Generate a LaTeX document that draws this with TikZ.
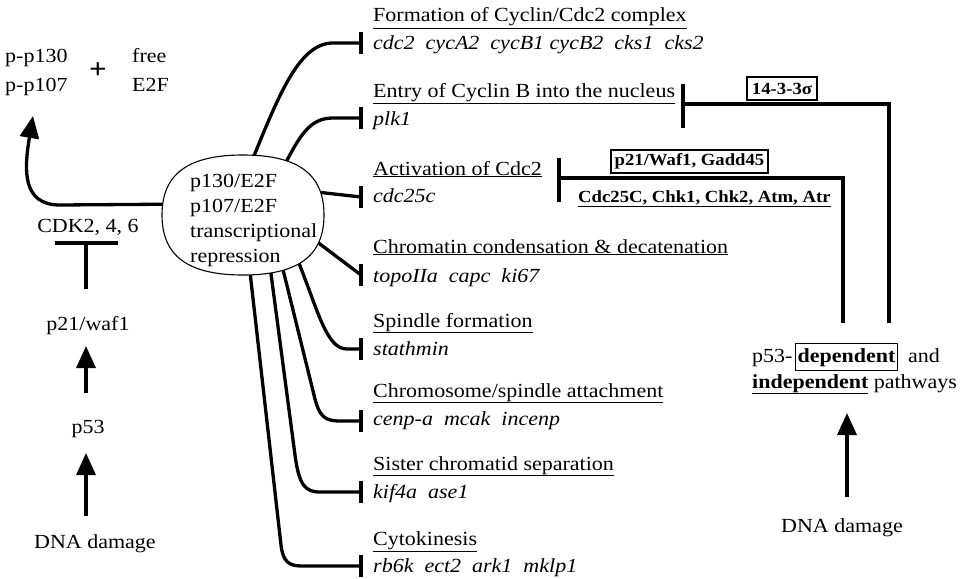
\documentclass[tikz,border=0pt]{standalone}
\usepackage{fontspec}
\setmainfont{Liberation Serif}[FakeStretch=1.1]
\usetikzlibrary{arrows.meta,shapes.geometric}
\newcommand\mainsz{\fontsize{20}{25}\selectfont}
\newcommand\lblsz{\fontsize{17}{20}\selectfont\bfseries}
\newcommand\gp{\hspace{11pt}}
\begin{document}
\begin{tikzpicture}[x=1pt,y=-1pt,
  txt/.style={inner sep=0pt, anchor=base west, font=\mainsz},
  ctxt/.style={inner sep=0pt, anchor=base, font=\mainsz},
  gene/.style={inner sep=0pt, anchor=base west, font=\mainsz\itshape},
  lbl/.style={inner sep=0pt, font=\lblsz},
  boxlbl/.style={lbl, draw, line width=1.1pt, minimum height=23pt},
  conn/.style={line width=3.3pt},
  barline/.style={line width=3.6pt},
  arr/.style={line width=3.3pt, -{Triangle[length=22pt,width=19pt]}},
]
\useasboundingbox (0,0) rectangle (968,578);

% ---------- left column ----------
\node[txt] (pp1) at (5,63) {p-p130};
\node[txt] (pp2) at (5,91) {p-p107};
\node[inner sep=0pt, font=\fontsize{28}{30}\selectfont\bfseries] (plus) at (98,71) {+};
\node[txt] (fr1) at (132,63) {free};
\node[txt] (fr2) at (132,91) {E2F};
\coordinate (ppTip) at (33,116);

\node[ctxt] (cdk) at (88,232) {CDK2, 4, 6};
\coordinate (cdkbar) at (86,243);
\node[ctxt] (p21) at (88,330) {p21/waf1};
\coordinate (p21top) at (86,289);
\node[ctxt] (p53) at (88,433) {p53};
\node[ctxt] (dna1) at (95,548) {DNA damage};

\coordinate (a1s) at (86,393);
\coordinate (a1e) at (86,346);
\coordinate (a2s) at (86,516);
\coordinate (a2e) at (86,453);

\draw[conn] (p21top) -- (cdkbar);
\draw[barline] (55,243) -- (118,243);
\draw[arr] (a1s) -- (a1e);
\draw[arr] (a2s) -- (a2e);

% ---------- central node (anchors) ----------
\node[ellipse, minimum width=156pt, minimum height=114pt, inner sep=0pt] (ell) at (243,215) {};

\draw[arr] (ell.172) -- (60,205) .. controls (22,205) and (24,170) .. (ppTip);

% ---------- processes ----------
\node[txt] (t1) at (373,22) {\underline{Formation of Cyclin/Cdc2 complex}};
\node[gene] (g1) at (373,50) {cdc2\gp cycA2\gp cycB1 cycB2\gp cks1\gp cks2};
\node[txt] (t2) at (373,97) {\underline{Entry of Cyclin B into the nucleus}};
\node[gene] (g2) at (373,125) {plk1};
\node[txt] (t3) at (373,175) {\underline{Activation of Cdc2}};
\node[gene] (g3) at (373,202) {cdc25c};
\node[txt] (t4) at (373,253) {\underline{Chromatin condensation \& decatenation}};
\node[gene] (g4) at (373,282) {topoIIa\gp capc\gp ki67};
\node[txt] (t5) at (373,327) {\underline{Spindle formation}};
\node[gene] (g5) at (373,355) {stathmin};
\node[txt] (t6) at (373,397) {\underline{Chromosome/spindle attachment}};
\node[gene] (g6) at (373,425) {cenp-a\gp mcak\gp incenp};
\node[txt] (t7) at (373,470) {\underline{Sister chromatid separation}};
\node[gene] (g7) at (373,498) {kif4a\gp ase1};
\node[txt] (t8) at (373,545) {\underline{Cytokinesis}};
\node[gene] (g8) at (373,572) {rb6k\gp ect2\gp ark1\gp mklp1};

\coordinate (b1) at (361,43);
\coordinate (b2) at (361,118);
\coordinate (b3) at (361,197);
\coordinate (b4) at (361,275);
\coordinate (b5) at (361,349);
\coordinate (b6) at (361,421);
\coordinate (b7) at (361,492);
\coordinate (b8) at (361,566);
\foreach \b in {b1,b2,b3,b4,b5,b6,b7,b8}
  \draw[barline] ([yshift=11pt]\b) -- ([yshift=-11pt]\b);

\draw[conn] (ell.80) .. controls (280,92) and (300,43) .. (333,43) -- (b1);
\draw[conn] (ell.50) .. controls (300,135) and (310,118) .. (333,118) -- (b2);
\draw[conn] (ell.18) -- (b3);
\draw[conn] (ell.-19) -- (b4);
\draw[conn] (ell.-38) .. controls (318,310) and (326,349) .. (347,349) -- (b5);
\draw[conn] (ell.-52) -- (314,395) .. controls (319,417) and (325,421) .. (340,421) -- (b6);
\draw[conn] (ell.-63) -- (295,455) .. controls (299,485) and (305,492) .. (320,492) -- (b7);
\draw[conn] (ell.-83) -- (281,545) .. controls (283,562) and (289,566) .. (302,566) -- (b8);

% rounded oval outline over the connector starts
\draw[line width=1.1pt, fill=white]
  (162,215) .. controls (162,174) and (188,155) .. (243,155)
  .. controls (298,155) and (324,174) .. (324,215)
  .. controls (324,256) and (298,275) .. (243,275)
  .. controls (188,275) and (162,256) .. (162,215) -- cycle;
\node[txt] (e1) at (190,187) {p130/E2F};
\node[txt] (e2) at (190,212) {p107/E2F};
\node[txt] (e3) at (190,237) {transcriptional};
\node[txt] (e4) at (190,262) {repression};

% ---------- right side ----------
\node[boxlbl, minimum width=70pt] (s143) at (782,88.5) {14-3-3σ};
\node[boxlbl, minimum width=157pt] (p21w) at (689.5,161.5) {p21/Waf1, Gadd45};
\node[lbl, anchor=base west] (cdc) at (578,202) {\underline{Cdc25C, Chk1, Chk2, Atm, Atr}};

\coordinate (tb1) at (683,104);
\coordinate (tb2) at (559,178);
\coordinate (src1) at (889,323);
\coordinate (src2) at (843,323);
\draw[barline] (683,84) -- (683,128);
\draw[barline] (559,158) -- (559,202);
\draw[conn] (src1) |- (tb1);
\draw[conn] (src2) |- (tb2);

\node[txt] (pd1) at (752,362) {p53-};
\node[draw, line width=1.1pt, anchor=base west, font=\mainsz\bfseries, inner xsep=2pt, inner ysep=4.5pt, text height=14pt, text depth=4pt] (dep) at (795,362) {dependent};
\node[txt] (and) at (908,362) {and};
\node[txt] (ind) at (752,388) {\underline{\textbf{independent}} pathways};

\node[ctxt] (dna2) at (842,532) {DNA damage};
\coordinate (a3s) at (847,497);
\coordinate (a3e) at (847,413);
\draw[arr] (a3s) -- (a3e);
\end{tikzpicture}
\end{document}
